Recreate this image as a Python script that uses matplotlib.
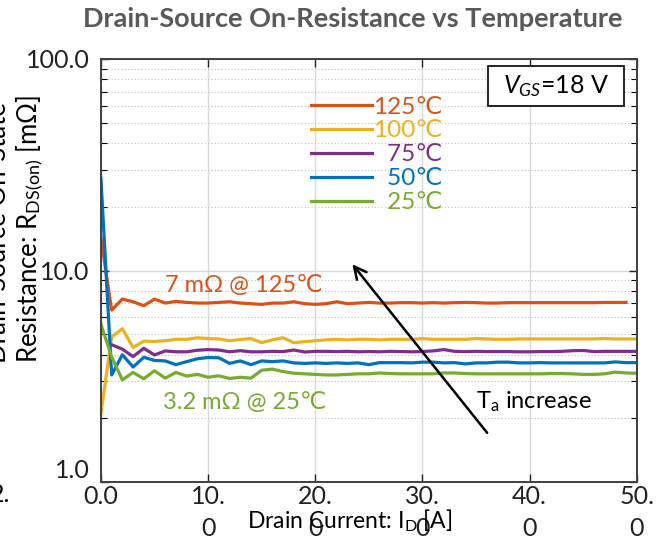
import matplotlib
matplotlib.use('Agg')
import matplotlib.pyplot as plt
from matplotlib.patches import Rectangle
from matplotlib.ticker import FixedLocator, NullFormatter

plt.rcParams['font.family'] = ['Lato', 'DejaVu Sans']
plt.rcParams['mathtext.fontset'] = 'custom'
plt.rcParams['mathtext.rm'] = 'Lato'
plt.rcParams['mathtext.it'] = 'Lato:italic'

# drain current [A]
current = list(range(0, 51))

# R_DS(on) [mOhm]
r_125 = [14.3, 6.5, 7.33, 7.12, 6.82, 7.33, 7.02, 7.15, 7.07, 7.02,
         7.02, 7.07, 7.12, 7.02, 6.97, 6.92, 7.02, 7.02, 7.12, 6.97,
         6.92, 6.97, 7.12, 6.97, 7.02, 7.07, 7.02, 7.02, 7.05, 7.05,
         7.02, 7.05, 7.02, 7.05, 7.07, 7.05, 7.02, 7.02, 7.05, 7.05,
         7.05, 7.05, 7.05, 7.05, 7.05, 7.05, 7.05, 7.07, 7.07, 7.07]
r_100 = [2.11, 4.85, 5.31, 4.33, 4.64, 4.62, 4.66, 4.73, 4.73, 4.81,
         4.77, 4.75, 4.66, 4.72, 4.77, 4.56, 4.70, 4.81, 4.56, 4.61,
         4.66, 4.70, 4.73, 4.70, 4.73, 4.73, 4.70, 4.73, 4.73, 4.73,
         4.77, 4.73, 4.73, 4.73, 4.73, 4.77, 4.75, 4.73, 4.73, 4.75,
         4.75, 4.75, 4.75, 4.75, 4.75, 4.75, 4.75, 4.77, 4.75, 4.75, 4.75]
r_75 = [None, 4.46, 4.25, 3.92, 4.29, 3.99, 4.17, 4.13, 4.13, 4.20,
        4.23, 4.21, 4.13, 4.18, 4.13, 4.13, 4.15, 4.14, 4.21, 4.12,
        4.15, 4.15, 4.14, 4.15, 4.13, 4.14, 4.13, 4.15, 4.14, 4.13,
        4.14, 4.17, 4.23, 4.15, 4.14, 4.15, 4.14, 4.14, 4.14, 4.13,
        4.13, 4.14, 4.14, 4.15, 4.18, 4.19, 4.14, 4.15, 4.15, 4.15, 4.15]
r_50 = [27.3, 3.21, 4.00, 3.50, 3.89, 3.76, 3.74, 3.59, 3.71, 3.83,
        3.88, 3.87, 3.64, 3.74, 3.59, 3.74, 3.71, 3.74, 3.66, 3.64,
        3.66, 3.64, 3.66, 3.64, 3.66, 3.59, 3.67, 3.67, 3.67, 3.66,
        3.69, 3.69, 3.66, 3.67, 3.62, 3.66, 3.66, 3.69, 3.69, 3.66,
        3.66, 3.67, 3.66, 3.66, 3.66, 3.66, 3.66, 3.66, 3.70, 3.67, 3.67]
r_25 = [5.58, 3.91, 3.04, 3.30, 3.08, 3.36, 3.10, 3.30, 3.17, 3.23,
        3.13, 3.18, 3.09, 3.13, 3.10, 3.38, 3.42, 3.33, 3.27, 3.25,
        3.23, 3.21, 3.21, 3.23, 3.25, 3.25, 3.28, 3.26, 3.25, 3.25,
        3.25, 3.25, 3.28, 3.28, 3.26, 3.25, 3.25, 3.25, 3.25, 3.25,
        3.25, 3.25, 3.26, 3.26, 3.25, 3.23, 3.23, 3.25, 3.31, 3.28, 3.27]

# labels padded with a figure space so the legend text lines up on the right
series = [
    ('125℃', r_125, '#D95319'),
    ('100℃', r_100, '#EDB120'),
    ('\u200775℃', r_75, '#7E2F8E'),
    ('\u200750℃', r_50, '#0072BD'),
    ('\u200725℃', r_25, '#77AC30'),
]

x_ticks = [0, 10, 20, 30, 40, 50]
x_ticklabels = ['0.0', '10.\n0', '20.\n0', '30.\n0', '40.\n0', '50.\n0']
y_ticks = [1, 10, 100]
y_ticklabels = ['1.0', '10.0', '100.0']

fig = plt.figure(figsize=(6.64, 5.46), dpi=100)
ax = fig.add_axes([0.152, 0.117, 0.807, 0.775])

for label, vals, col in series:
    xs = [c for c, v in zip(current, vals) if v is not None]
    ys = [v for v in vals if v is not None]
    ax.plot(xs, ys, color=col, lw=2.3, label=label, solid_joinstyle='round')

ax.set_yscale('log')
ax.set_xlim(0, 50)
ax.set_ylim(1, 100)
ax.set_xticks(x_ticks)
ax.set_xticklabels(x_ticklabels, fontsize=18, va='top', linespacing=1.5)
ax.set_yticks(y_ticks)
ax.set_yticklabels(y_ticklabels, fontsize=18)
ax.get_yticklabels()[0].set_va('bottom')
minor = [m * d for d in (1, 10) for m in range(2, 10)]
ax.yaxis.set_minor_locator(FixedLocator(minor))
ax.yaxis.set_minor_formatter(NullFormatter())
ax.tick_params(axis='both', which='major', direction='in', length=6, width=1,
               top=True, right=True, colors='#222222')
ax.tick_params(axis='x', which='major', pad=2)
ax.tick_params(axis='y', which='major', pad=8)
ax.tick_params(axis='y', which='minor', direction='in', length=4, width=0.8,
               left=True, right=True)
ax.grid(True, which='major', color='#d9d9d9', lw=1, ls='-')
ax.grid(True, which='minor', axis='y', color='#bfbfbf', lw=0.8, ls=(0, (1, 2)))
ax.set_axisbelow(True)
for sp in ax.spines.values():
    sp.set_color('#404040')
    sp.set_linewidth(1.4)

fig.text(0.532, 0.965, 'Drain-Source On-Resistance vs Temperature', ha='center',
         va='center', fontsize=19.5, fontweight='bold', color='#595959')

ax.set_xlabel('Drain Current: I$_\\mathrm{D}$ [A]', fontsize=16.5)
ax.xaxis.set_label_coords(0.465, -0.06)
ax.xaxis.label.set_va('top')

fig.text(0.024, 0.58, 'Drain-Source On-State\nResistance: R$_\\mathrm{DS(on)}$ [mΩ]',
         rotation=90, ha='center', va='center', multialignment='left', fontsize=18.5)

fig.text(10 / 664, 0.115, '2.', ha='right', va='top', fontsize=18)

leg = ax.legend(loc='upper left', bbox_to_anchor=(0.37, 0.94), frameon=False,
                fontsize=17.5, labelcolor='linecolor', handlelength=2.5,
                handletextpad=0.05, labelspacing=0.12, borderpad=0)

ax.add_patch(Rectangle((0.723, 0.888), 0.253, 0.095, transform=ax.transAxes,
                       fc='white', ec='black', lw=1.2, zorder=5))
ax.text(0.85, 0.936, '$V_{GS}$=18 V', transform=ax.transAxes, ha='center',
        va='center', fontsize=18, zorder=6)

ax.text(6.0, 8.54, '7 mΩ @ 125℃', color='#D95319', fontsize=17, va='center')
ax.text(5.8, 2.39, '3.2 mΩ @ 25℃', color='#77AC30', fontsize=17, va='center')
ax.annotate('', xy=(23.3, 10.97), xytext=(36.2, 1.67),
            arrowprops=dict(arrowstyle='->', color='black', lw=1.8,
                            mutation_scale=22))
ax.text(35.0, 2.39, 'T$_\\mathrm{a}$ increase', fontsize=17, va='center')

fig.savefig('out.png', dpi=100)
